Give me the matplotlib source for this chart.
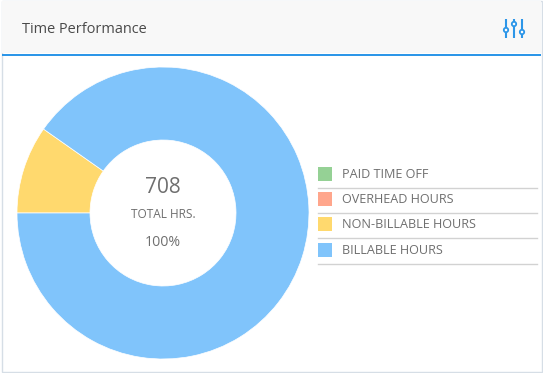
import matplotlib
matplotlib.use('Agg')
import matplotlib.pyplot as plt
from matplotlib.patches import Rectangle, Circle

# values
categories = ['PAID TIME OFF', 'OVERHEAD HOURS', 'NON-BILLABLE HOURS', 'BILLABLE HOURS']
hours = [0, 0, 69, 639]
colours = ['#95d195', '#ffa68c', '#ffd96e', '#80c4fb']
title = 'Time Performance'
total_label = '708'
total_caption = 'TOTAL HRS.'
total_pct = '100%'

plt.rcParams['font.family'] = ['Open Sans', 'DejaVu Sans']
W, H = 543, 373
text_col = '#6f6f6f'
blue = '#2d96e8'

fig = plt.figure(figsize=(W/100, H/100), dpi=100, facecolor='white')

# card, header, legend are laid out in pixels
bg = fig.add_axes([0, 0, 1, 1])
bg.set_xlim(0, W)
bg.set_ylim(H, 0)
bg.axis('off')
bg.add_patch(Rectangle((1.5, 0.5), 540, 371, fc='white', ec='#d6dee6', lw=1))
bg.add_patch(Rectangle((2, 1), 539, 52, fc='#f8f8f8', ec='none'))
bg.add_patch(Rectangle((2, 54), 539, 2, fc=blue, ec='none'))
bg.text(22, 29.5, title, fontsize=10.45, color='#4a4a4a', va='center', ha='left', fontweight='medium')

# filter icon in the header
for x, knob in zip([506, 514, 522], [30, 24, 32]):
    bg.plot([x, x], [19, 38], color=blue, lw=1.5, solid_capstyle='butt')
    bg.add_patch(Circle((x, knob), 2.2, fc='white', ec=blue, lw=1.3, zorder=3))

# legend
row_y = [174, 199, 224, 250]
rule_y = [187.5, 212.5, 237.5, 263.5]
for name, col, y, ry in zip(categories, colours, row_y, rule_y):
    bg.add_patch(Rectangle((318, y-7), 14, 14, fc=col, ec='none'))
    bg.text(342, y+0.5, name, fontsize=9.1, color=text_col, va='center', ha='left')
    bg.plot([318, 537], [ry, ry], color='#d2d2d2', lw=1)

# doughnut
ax = fig.add_axes([17/W, (H-359)/H, 292/W, 292/H])
ax.pie(hours, colors=colours, startangle=180, counterclock=False, radius=1,
       wedgeprops={'width': 0.5, 'edgecolor': 'white', 'linewidth': 0.5})
ax.set_xlim(-1, 1)
ax.set_ylim(-1, 1)
ax.set_aspect('equal')
ax.patch.set_alpha(0)

bg2 = fig.add_axes([0, 0, 1, 1])
bg2.set_xlim(0, W)
bg2.set_ylim(H, 0)
bg2.axis('off')
bg2.text(163, 187.5, total_label, fontsize=15, color=text_col, va='center', ha='center')
bg2.text(163, 214, total_caption, fontsize=8.6, color=text_col, va='center', ha='center')
bg2.text(163, 242.5, total_pct, fontsize=10.2, color=text_col, va='center', ha='center')

fig.savefig('out.png', dpi=100)
